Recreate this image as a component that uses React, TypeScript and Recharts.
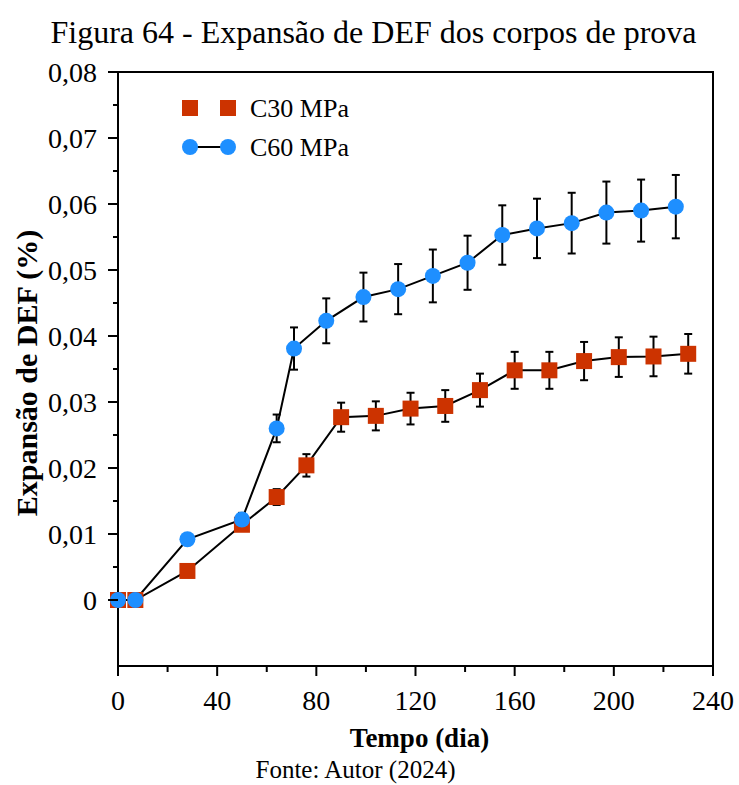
import { LineChart, Line, XAxis, YAxis, ErrorBar, ReferenceArea } from 'recharts';

const diasC30 = [0, 7, 28, 50, 64, 76, 90, 104, 118, 132, 146, 160, 174, 188, 202, 216, 230];
const expansaoC30 = [0, 0, 0.0044, 0.0114, 0.0156, 0.0204, 0.0277, 0.0279, 0.029, 0.0294, 0.0318, 0.0348, 0.0348, 0.0362, 0.0368, 0.0369, 0.0373];
const erroC30 = [0, 0, 0.0003, 0.0004, 0.0012, 0.0017, 0.0022, 0.0022, 0.0024, 0.0024, 0.0025, 0.0028, 0.0028, 0.0029, 0.003, 0.003, 0.003];

const diasC60 = [0, 7, 28, 50, 64, 71, 84, 99, 113, 127, 141, 155, 169, 183, 197, 211, 225];
const expansaoC60 = [0, 0, 0.0092, 0.0122, 0.026, 0.0381, 0.0423, 0.0459, 0.0471, 0.0491, 0.0511, 0.0553, 0.0563, 0.0571, 0.0587, 0.059, 0.0596];
const erroC60 = [0, 0, 0.0008, 0.001, 0.0021, 0.0032, 0.0034, 0.0037, 0.0038, 0.004, 0.0041, 0.0045, 0.0045, 0.0046, 0.0047, 0.0047, 0.0048];

const xTicks = [0, 20, 40, 60, 80, 100, 120, 140, 160, 180, 200, 220, 240];
const yTicks = [0, 0.005, 0.01, 0.015, 0.02, 0.025, 0.03, 0.035, 0.04, 0.045, 0.05, 0.055, 0.06, 0.065, 0.07, 0.075, 0.08];

const dadosC30 = diasC30.map((d, i) => ({ dia: d, valor: expansaoC30[i], erro: erroC30[i] }));
const dadosC60 = diasC60.map((d, i) => ({ dia: d, valor: expansaoC60[i], erro: erroC60[i] }));

const VERMELHO = '#cc3300';
const AZUL = '#1e8fff';
const FONTE = "'Liberation Serif', 'Times New Roman', serif";

const formatY = (v: number) => (v === 0 ? '0' : v.toFixed(2).replace('.', ','));

const YTick = (props: any) => {
  const { x, y, payload } = props;
  const major = Math.round(payload.value * 1000) % 10 === 0;
  return (
    <g>
      <line x1={x} x2={x - (major ? 10 : 5)} y1={y} y2={y} stroke="#000" strokeWidth={2} />
      {major && (
        <text x={x - 21} y={y} textAnchor="end" dominantBaseline="central" fontFamily={FONTE} fontSize={28} fill="#000">
          {formatY(payload.value)}
        </text>
      )}
    </g>
  );
};

const XTick = (props: any) => {
  const { x, y, payload } = props;
  const major = payload.value % 40 === 0;
  return (
    <g>
      <line x1={x} x2={x} y1={y} y2={y + (major ? 10 : 6)} stroke="#000" strokeWidth={2} />
      {major && (
        <text x={x} y={y + 34} textAnchor="middle" dominantBaseline="central" fontFamily={FONTE} fontSize={28} fill="#000">
          {payload.value}
        </text>
      )}
    </g>
  );
};

const Quadrado = (props: any) => {
  const { cx, cy, index } = props;
  return <rect key={`q-${index}`} x={cx - 8} y={cy - 8} width={16} height={16} fill={VERMELHO} />;
};

const Circulo = (props: any) => {
  const { cx, cy, index } = props;
  return <circle key={`c-${index}`} cx={cx} cy={cy} r={8} fill={AZUL} />;
};

const Legenda = () => (
  <svg width={739} height={785} style={{ position: 'absolute', left: 0, top: 0, pointerEvents: 'none' }}>
    <rect x={182} y={100} width={16} height={16} fill={VERMELHO} />
    <rect x={220} y={100} width={16} height={16} fill={VERMELHO} />
    <text x={250} y={108} dominantBaseline="central" fontFamily={FONTE} fontSize={26}>C30 MPa</text>
    <line x1={190} x2={228} y1={147} y2={147} stroke="#000" strokeWidth={2} />
    <circle cx={190} cy={147} r={8} fill={AZUL} />
    <circle cx={228} cy={147} r={8} fill={AZUL} />
    <text x={250} y={147} dominantBaseline="central" fontFamily={FONTE} fontSize={26}>C60 MPa</text>
  </svg>
);

export default function App() {
  return (
    <div style={{ position: 'absolute', left: 0, top: 0, width: 739, height: 785, background: '#fff', fontFamily: FONTE }}>
      <div style={{ position: 'absolute', left: 0, width: 747, top: 13, textAlign: 'center', fontSize: 32, lineHeight: '38px' }}>
        Figura 64 - Expansão de DEF dos corpos de prova
      </div>
      <LineChart width={739} height={785} margin={{ top: 72, right: 26, left: 58, bottom: 79 }}>
        <XAxis
          dataKey="dia"
          type="number"
          domain={[0, 240]}
          ticks={xTicks}
          interval={0}
          height={40}
          tick={<XTick />}
          tickSize={0}
          tickMargin={0}
          tickLine={false}
          axisLine={{ stroke: '#000', strokeWidth: 2 }}
          allowDuplicatedCategory={false}
        />
        <YAxis
          type="number"
          domain={[-0.01, 0.08]}
          ticks={yTicks}
          interval={0}
          width={60}
          tick={<YTick />}
          tickSize={0}
          tickMargin={0}
          tickLine={false}
          axisLine={{ stroke: '#000', strokeWidth: 2 }}
          allowDataOverflow
        />
        <ReferenceArea x1={0} x2={240} y1={-0.01} y2={0.08} fill="none" stroke="#000" strokeWidth={2} />
        <Line data={dadosC30} dataKey="valor" stroke="none" dot={<Quadrado />} activeDot={false} isAnimationActive={false} />
        <Line data={dadosC30} dataKey="valor" stroke="#000" strokeWidth={2} dot={false} activeDot={false} isAnimationActive={false}>
          <ErrorBar dataKey="erro" direction="y" width={4} stroke="#000" strokeWidth={2} />
        </Line>
        <Line data={dadosC60} dataKey="valor" stroke="#000" strokeWidth={2} dot={<Circulo />} activeDot={false} isAnimationActive={false} />
        <Line data={dadosC60} dataKey="valor" stroke="none" dot={false} activeDot={false} isAnimationActive={false}>
          <ErrorBar dataKey="erro" direction="y" width={4} stroke="#000" strokeWidth={2} />
        </Line>
      </LineChart>
      <Legenda />
      <div
        style={{
          position: 'absolute',
          left: 27,
          top: 373,
          transform: 'translate(-50%, -50%) rotate(-90deg)',
          whiteSpace: 'nowrap',
          fontWeight: 'bold',
          fontSize: 30,
        }}
      >
        Expansão de DEF (%)
      </div>
      <div style={{ position: 'absolute', left: 0, width: 839, top: 721, textAlign: 'center', fontWeight: 'bold', fontSize: 27, lineHeight: '34px' }}>
        Tempo (dia)
      </div>
      <div style={{ position: 'absolute', left: 0, width: 711, top: 755, textAlign: 'center', fontSize: 25, lineHeight: '30px' }}>
        Fonte: Autor (2024)
      </div>
    </div>
  );
}
